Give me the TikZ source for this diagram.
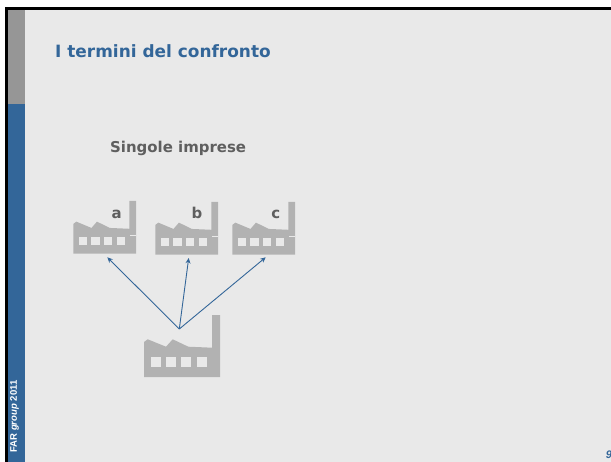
\documentclass[tikz,border=0pt]{standalone}
\usepackage{fontspec}
\usepackage{xcolor}
\usetikzlibrary{arrows.meta}
\setmainfont{DejaVu Sans}
\newfontfamily\sidefont{Liberation Sans}
\definecolor{slidebg}{HTML}{E9E9E9}
\definecolor{sidegray}{HTML}{969696}
\definecolor{farblue}{HTML}{336699}
\definecolor{plantgray}{HTML}{B2B2B2}
\definecolor{labelgray}{HTML}{5F5F5F}
\tikzset{
    plant/.pic={
        \fill [plantgray] (0,62)--(0,27)--(3.7,24.3)--(22,31.7)--(28.7,24.3)--(44.3,31.7)--(68,32.7)--(68,0)--(76,0)--(76,62)--cycle;
        \foreach \winx in {7,22,37,53}
            \fill [slidebg] (\winx,42)rectangle ++(10,10);
    },
    plantname/.style={anchor=base,inner sep=0pt,text=labelgray,font=\fontsize{15}{18}\selectfont\bfseries},
    linkarrow/.style={draw=farblue,line width=0.9pt,-{Stealth[length=5.5pt,width=5pt]}}
}
\begin{document}
\begin{tikzpicture}[line cap=butt,line join=miter,x=1bp,y=-1bp]
    \useasboundingbox (0,0) rectangle (611,462);
    \fill [white] (0,0) rectangle (611,462);
    \fill [slidebg] (8,10) rectangle (611,462);
    \fill [sidegray] (8,10) rectangle (25,104);
    \fill [farblue] (8,104) rectangle (25,462);
    \fill [black] (5,7) rectangle (611,10);
    \fill [black] (5,7) rectangle (8,462);
    % titles
    \node [anchor=base west,inner sep=0pt,text=farblue,font=\fontsize{17}{20}\selectfont\bfseries] (title) at (55,57.6) {I termini del confronto};
    \node [plantname,anchor=base west] (single) at (110,152.3) {Singole imprese};
    \node [rotate=90,inner sep=0pt,text=white,font=\fontsize{9.6}{12}\selectfont\sidefont\bfseries] (year) at (14.5,416.5) {FAR \textit{group} 2011};
    \node [inner sep=0pt,text=farblue,font=\fontsize{11}{13}\selectfont\sidefont\bfseries\itshape] (page) at (609,455) {9};
    % factories
    \pic at (144,315) {plant};
    \pic [xscale=0.825,yscale=0.85] at (73.3,201) {plant};
    \pic [xscale=0.825,yscale=0.85] at (155.3,202) {plant};
    \pic [xscale=0.825,yscale=0.85] at (232.3,202) {plant};
    \fill [slidebg] (130,235.5) rectangle (136,236.2);
    \fill [slidebg] (212,236.5) rectangle (218,237.2);
    \fill [slidebg] (289,236.5) rectangle (295,237.2);
    \node [plantname] (a) at (116.7,219) {a};
    \node [plantname] (b) at (197,219) {b};
    \node [plantname] (c) at (275.7,219) {c};
    % arrows
    \coordinate (hub) at (179.3,329);
    \coordinate (enda) at (107.3,257.3);
    \coordinate (endb) at (188.7,258);
    \coordinate (endc) at (265.7,257.3);
    \draw [linkarrow] (hub)--(enda);
    \draw [linkarrow] (hub)--(endb);
    \draw [linkarrow] (hub)--(endc);
\end{tikzpicture}
\end{document}
